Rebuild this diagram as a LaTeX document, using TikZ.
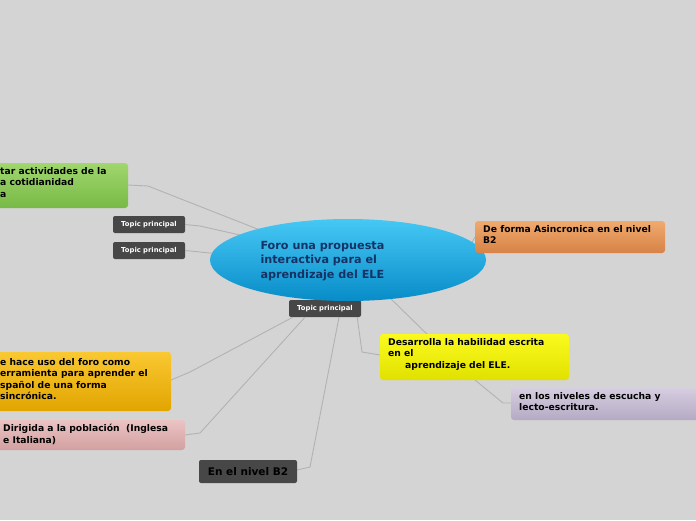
\documentclass[tikz,border=0pt]{standalone}
\usepackage{fontspec}
\setmainfont{DejaVu Sans}
\begin{document}
\begin{tikzpicture}[x=1pt,y=-1pt,
 box/.style={rounded corners=2pt,font=\bfseries\fontsize{9.2}{11.5}\selectfont,align=left,inner sep=0pt,anchor=north west,text=black},
 topic/.style={draw=none,fill=black!72,rounded corners=2pt,text=white,font=\bfseries\fontsize{6.8}{7}\selectfont,minimum width=72pt,minimum height=17pt,inner sep=0pt},
 con/.style={draw=black!30,line width=0.9pt}]
\useasboundingbox (0,0) rectangle (696,520);
\clip (0,0) rectangle (696,520);
\fill[black!17] (0,0) rectangle (696,520);
% connectors
\coordinate (g1) at (128,185);
\draw[con] (265,232) -- (148,186) -- (g1);
\node[topic] (t1) at (149,224.5) {Topic principal};
\node[topic] (t2) at (149,250.5) {Topic principal};
\node[topic] (t3) at (325,308.5) {Topic principal};
\draw[con] (t1.east) -- (200,226) -- (262,240);
\draw[con] (t2.east) -- (200,252) -- (230,255);
\draw[con] (470,246) -- (475,237);
\draw[con] (390,298) -- (430,337);
\draw[con] (t3.south east) ++(-4,0) -- (362,352) -- (380,355);
\draw[con] (t3.south west) ++(4,0) -- (190,372) -- (171,380);
\draw[con] (t3.south) ++(-20,0) -- (200,433) -- (185,435);
\draw[con] (t3.south) ++(14,0) -- (310,467) -- (297,470);
\draw[con] (475,380) -- (503,403) -- (511,403);
% central
\shade[top color={rgb,255:red,70;green,200;blue,245}, bottom color={rgb,255:red,8;green,140;blue,200}] (348,260) ellipse (138 and 41);
\node[font=\bfseries\fontsize{11.2}{14.5}\selectfont,text={rgb,255:red,20;green,50;blue,100},align=left,anchor=west] (c) at (257,261) {Foro una propuesta\\interactiva para el\\aprendizaje del ELE};
% boxes
\shade[rounded corners=3pt,top color={rgb,255:red,160;green,215;blue,110},bottom color={rgb,255:red,120;green,185;blue,70}] (-10,163) rectangle (128,208);
\node[box] (g) at (0,167) {tar actividades de la\\a cotidianidad\\a};
\shade[rounded corners=3pt,top color={rgb,255:red,240;green,170;blue,110},bottom color={rgb,255:red,215;green,130;blue,70}] (475,221) rectangle (665,253);
\node[box] (o) at (483,225) {De forma Asincronica en el nivel\\B2};
\shade[rounded corners=3pt,top color={rgb,255:red,250;green,250;blue,30},bottom color={rgb,255:red,225;green,225;blue,0}] (380,334) rectangle (569,380);
\node[box] (y) at (388,338) {Desarrolla la habilidad escrita\\en el\\\hspace*{17pt}aprendizaje del ELE.};
\shade[rounded corners=3pt,top color={rgb,255:red,215;green,205;blue,225},bottom color={rgb,255:red,180;green,170;blue,195}] (511,388) rectangle (706,420);
\node[box] (l) at (519,392) {en los niveles de escucha y\\lecto-escritura.};
\shade[rounded corners=3pt,top color={rgb,255:red,250;green,200;blue,50},bottom color={rgb,255:red,225;green,165;blue,0}] (-10,352) rectangle (171,411);
\node[box] (yl) at (0,358) {e hace uso del foro como\\erramienta para aprender el\\spañol de una forma\\sincrónica.};
\shade[rounded corners=3pt,top color={rgb,255:red,235;green,195;blue,195},bottom color={rgb,255:red,210;green,160;blue,160}] (-10,420) rectangle (185,450);
\node[box] (p) at (3,424) {Dirigida a la población\ \ (Inglesa\\e Italiana)};
\node[fill=black!72,rounded corners=2pt,minimum width=98pt,minimum height=23pt,inner sep=0pt,font=\bfseries\fontsize{10.5}{12}\selectfont,text=black] (b2) at (248,471.5) {En el nivel B2};
\end{tikzpicture}
\end{document}
